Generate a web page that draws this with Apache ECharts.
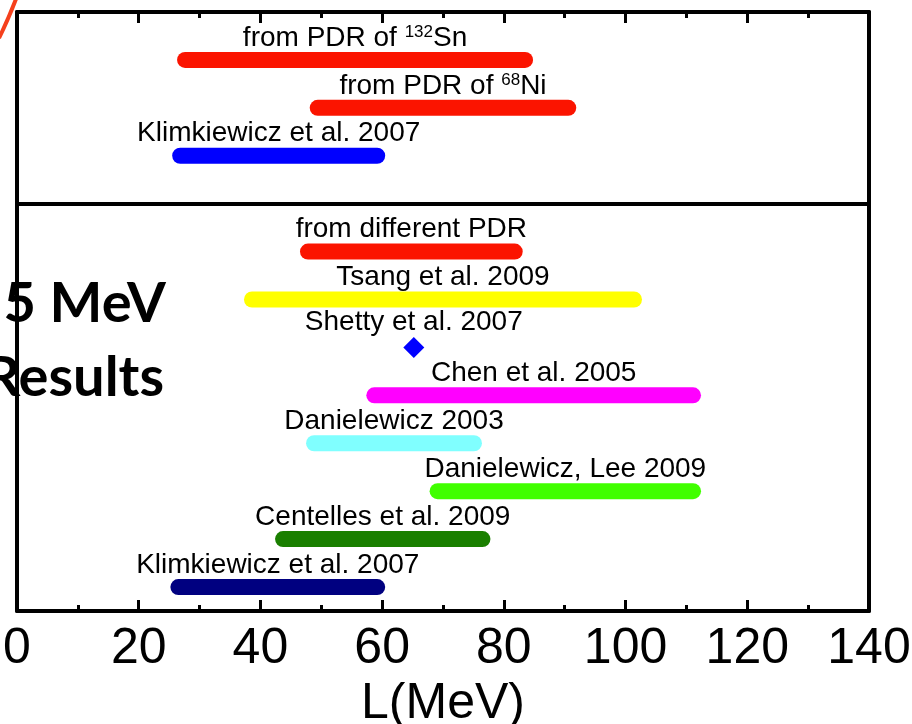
<!DOCTYPE html>
<html>
<head>
<meta charset="utf-8">
<script src="https://cdn.jsdelivr.net/npm/echarts@6/dist/echarts.min.js"></script>
<style>
html,body{margin:0;padding:0;background:#fff;}
#chart{width:912px;height:724px;}
</style>
</head>
<body>
<div id="chart"></div>
<script>
// ---- data ----
const bandLabels = [
  'Klimkiewicz et al. 2007',
  'Centelles et al. 2009',
  'Danielewicz, Lee 2009',
  'Danielewicz 2003',
  'Chen et al. 2005',
  'Tsang et al. 2009',
  'from different PDR',
  'Klimkiewicz et al. 2007',
  'from PDR of {sup|68}Ni',
  'from PDR of {sup|132}Sn'
];
const bandLow  = [25.2, 42.4, 67.8, 47.5, 57.4, 37.3, 46.5, 25.5, 48.1, 26.3];
const bandHigh = [60.5, 77.8, 112.4, 76.4, 112.4, 102.7, 83.1, 60.5, 91.9, 84.8];
const bandRow  = [0.5, 1.5, 2.5, 3.5, 4.5, 6.5, 7.5, 9.5, 10.5, 11.5];
const bandColors = ['#000080', '#1a7f00', '#40ff00', '#80ffff', '#ff00ff',
                    '#ffff00', '#fb1400', '#0000ff', '#fb1400', '#fb1400'];
const pointLabel = 'Shetty et al. 2007';
const pointL = [65.2];
const pointRow = [5.5];
const dividerRow = 8.5;
const xTicks = [0, 20, 40, 60, 80, 100, 120, 140];
const xName = 'L(MeV)';

const FONT = "'Liberation Sans', Arial, sans-serif";
const bandData = bandLow.map((v, i) => [v, bandHigh[i], bandRow[i], i]);

const chart = echarts.init(document.getElementById('chart'), null, {renderer: 'canvas'});

const axisLineStyle = {color: '#000', width: 4};

const option = {
  animation: false,
  backgroundColor: '#fff',
  grid: {left: 17, right: 43, top: 12, bottom: 113, containLabel: false, outerBoundsMode: 'none'},
  xAxis: [{
    type: 'value', position: 'bottom',
    min: xTicks[0], max: xTicks[xTicks.length - 1], interval: 20,
    name: xName, nameLocation: 'middle', nameGap: 54,
    nameTextStyle: {fontFamily: FONT, fontSize: 50, color: '#000'},
    axisLine: {show: true, onZero: false, lineStyle: axisLineStyle},
    axisTick: {show: true, inside: true, length: 11, lineStyle: {color: '#000', width: 3}},
    minorTick: {show: true, splitNumber: 2, length: 6, lineStyle: {color: '#000', width: 3}},
    axisLabel: {show: true, margin: 13, fontFamily: FONT, fontSize: 50, color: '#000', showMinLabel: true, showMaxLabel: true, hideOverlap: false},
    splitLine: {show: false}
  }, {
    type: 'value', position: 'top',
    min: xTicks[0], max: xTicks[xTicks.length - 1], interval: 20,
    axisLine: {show: true, onZero: false, lineStyle: axisLineStyle},
    axisTick: {show: true, inside: true, length: 11, lineStyle: {color: '#000', width: 3}},
    minorTick: {show: true, splitNumber: 2, length: 6, lineStyle: {color: '#000', width: 3}},
    axisLabel: {show: false},
    splitLine: {show: false}
  }],
  yAxis: [{
    type: 'value', position: 'left', min: 0, max: 12.5,
    axisLine: {show: true, onZero: false, lineStyle: axisLineStyle},
    axisTick: {show: false}, axisLabel: {show: false}, splitLine: {show: false}
  }, {
    type: 'value', position: 'right', min: 0, max: 12.5,
    axisLine: {show: true, onZero: false, lineStyle: axisLineStyle},
    axisTick: {show: false}, axisLabel: {show: false}, splitLine: {show: false}
  }],
  series: [{
    type: 'custom',
    xAxisIndex: 0, yAxisIndex: 0,
    data: bandData,
    encode: {x: [0, 1], y: 2},
    renderItem: function (params, api) {
      const x1 = api.value(0), x2 = api.value(1), y = api.value(2);
      const idx = api.value(3);
      const p1 = api.coord([x1, y]);
      const p2 = api.coord([x2, y]);
      const h = 16;
      return {
        type: 'group',
        children: [{
          type: 'rect',
          shape: {x: p1[0], y: p1[1] - h / 2, width: p2[0] - p1[0], height: h, r: h / 2},
          style: {fill: bandColors[idx]}
        }, {
          type: 'text',
          style: {
            text: bandLabels[idx],
            x: (p1[0] + p2[0]) / 2,
            y: p1[1] - 22,
            align: 'center',
            verticalAlign: 'middle',
            fontFamily: FONT,
            fontSize: 28,
            fill: '#000',
            rich: {
              sup: {fontFamily: FONT, fontSize: 17, fill: '#000', verticalAlign: 'top'}
            }
          }
        }]
      };
    },
    markLine: {
      silent: true,
      symbol: 'none',
      label: {show: false},
      lineStyle: {color: '#000', width: 4, type: 'solid', opacity: 1},
      emphasis: {disabled: true},
      data: [{yAxis: dividerRow}]
    }
  }, {
    type: 'scatter',
    xAxisIndex: 0, yAxisIndex: 0,
    symbol: 'diamond',
    symbolSize: [21, 21],
    itemStyle: {color: '#0000ff', opacity: 1},
    data: pointL.map((v, i) => [v, pointRow[i]]),
    label: {
      show: true, position: 'top', distance: 1,
      formatter: pointLabel,
      fontFamily: FONT, fontSize: 28, color: '#000', opacity: 1
    }
  }],
  graphic: [{
    type: 'text',
    style: {
      text: '5 MeV', x: 166, y: 304, align: 'right', verticalAlign: 'middle',
      fontFamily: "Lato, 'Open Sans', sans-serif", fontWeight: 'bold', fontSize: 56, fill: '#000'
    }, z: 10
  }, {
    type: 'text',
    style: {
      text: 'Results', x: 164, y: 378, align: 'right', verticalAlign: 'middle',
      fontFamily: "Lato, 'Open Sans', sans-serif", fontWeight: 'bold', fontSize: 56, fill: '#000'
    }, z: 10
  }, {
    type: 'bezierCurve',
    shape: {x1: -1, y1: 38, x2: 16, y2: -1, cpx1: 6, cpy1: 24, cpx2: 11, cpy2: 12},
    style: {stroke: '#f5401c', lineWidth: 4, fill: null},
    z: 10
  }]
};
chart.setOption(option);
</script>
</body>
</html>
